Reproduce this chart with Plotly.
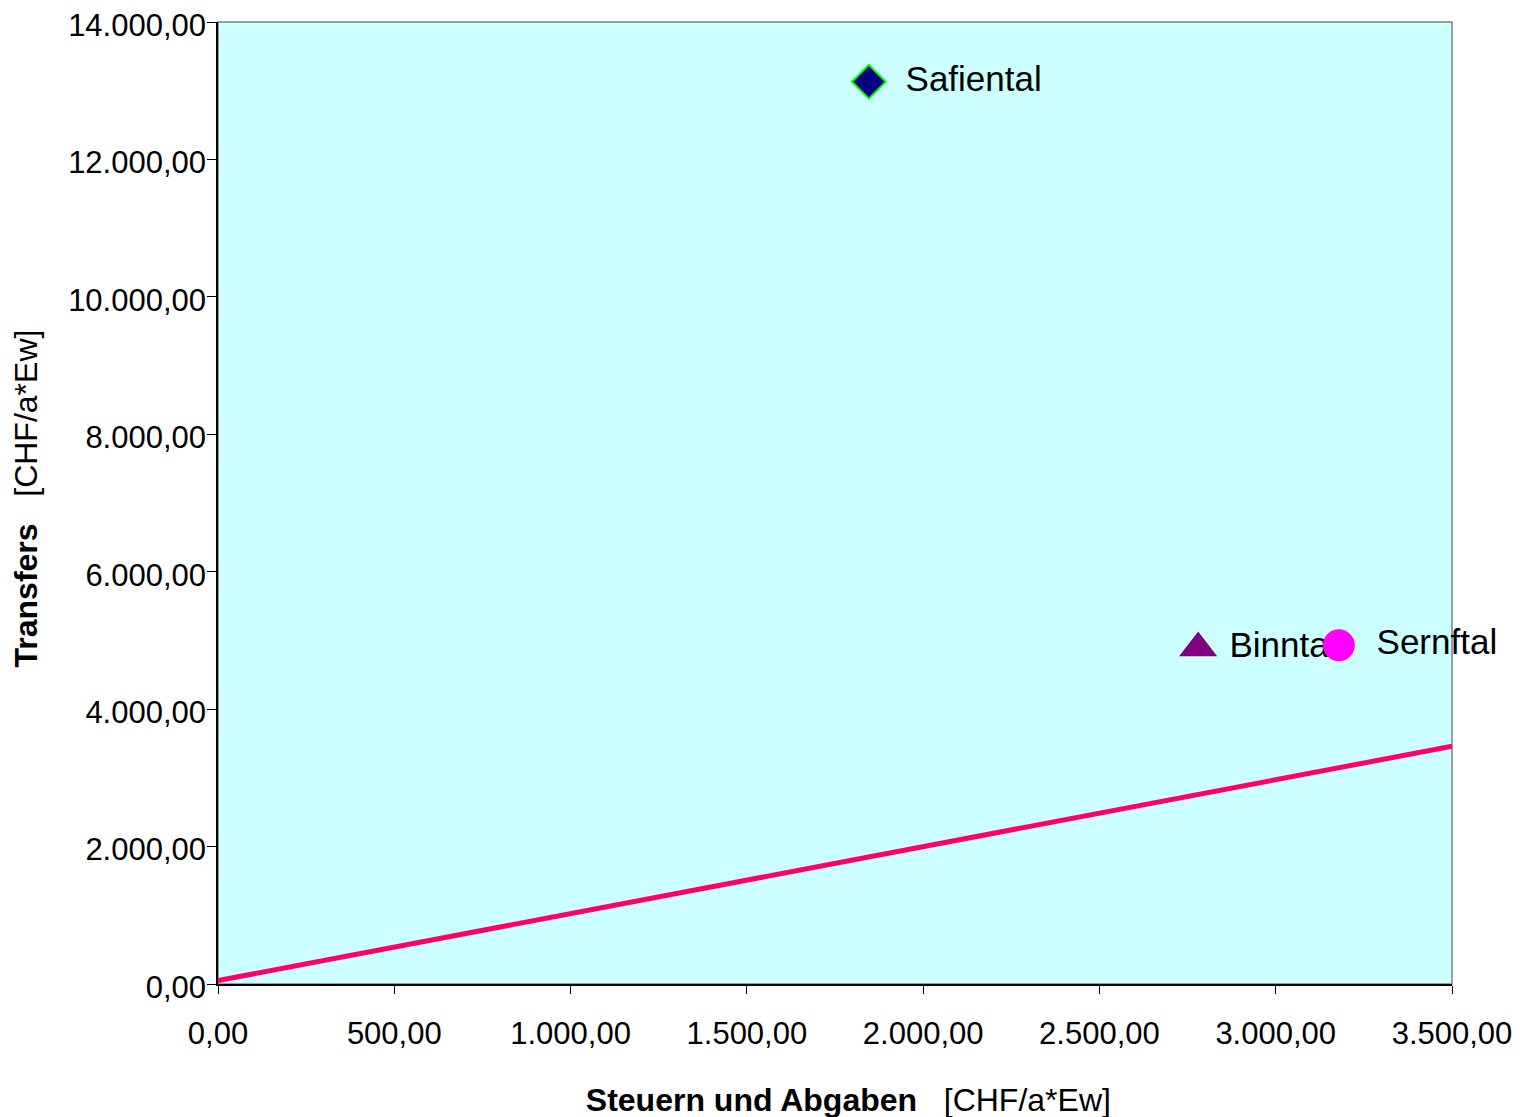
import plotly.graph_objects as go

# Data
names = ["Safiental", "Binntal", "Sernftal"]
steuern = [1846, 2780, 3179]
transfers = [13130, 4890, 4930]
line_x = [0, 3500]
line_y = [50, 3460]
x_ticks = [0, 500, 1000, 1500, 2000, 2500, 3000, 3500]
y_ticks = [0, 2000, 4000, 6000, 8000, 10000, 12000, 14000]

FONT = "Liberation Sans, Arial, sans-serif"
NB = "\u00a0"
TH = "\u2009"
INV = "<span style='color:rgba(0,0,0,0)'>{}</span>"

fig = go.Figure()

fig.add_trace(go.Scatter(
    x=line_x, y=line_y, mode="lines",
    line=dict(color="#FF0066", width=5), showlegend=False, hoverinfo="skip"))

styles = [
    dict(symbol="diamond", color="#000080", line=dict(color="#00FF00", width=2), size=26),
    dict(symbol="triangle-up", color="#800080", line=dict(width=0), size=33),
    dict(symbol="circle", color="#FF00FF", line=dict(width=0), size=32),
]
pads = [NB + NB, NB, NB + TH]

for i, n in enumerate(names):
    fig.add_trace(go.Scatter(
        x=[steuern[i]], y=[transfers[i]], mode="markers+text",
        marker=styles[i],
        text=[pads[i] + n], textposition="middle right",
        textfont=dict(family=FONT, size=35, color="black"),
        showlegend=False, cliponaxis=False))

fig.update_layout(
    width=1530, height=1117,
    margin=dict(l=210, r=86, t=14, b=141),
    paper_bgcolor="white", plot_bgcolor="#CCFFFF",
    separators=",.",
    font=dict(family=FONT, size=31, color="black"),
    shapes=[dict(type="rect", xref="paper", yref="paper", x0=0, y0=0, x1=1, y1=1,
                 line=dict(color="#808080", width=1.5), layer="below")],
)

fig.update_xaxes(
    range=[0, 3500], tickvals=x_ticks, tickformat=",.2f", automargin=False,
    showgrid=False, zeroline=False, showline=True, linecolor="black", linewidth=1.5,
    ticks="outside", ticklen=8, tickcolor="black", tickwidth=1,
    tickfont=dict(family=FONT, size=31), ticklabelstandoff=13, ticklabeloverflow="allow",
    title=dict(text=INV.format("...") + "<b>Steuern und Abgaben</b>" + NB * 3 + "[CHF/a*Ew]",
               font=dict(family=FONT, size=32), standoff=39),
)
fig.update_yaxes(
    range=[0, 14000], tickvals=y_ticks, tickformat=",.2f", automargin=False,
    showgrid=False, zeroline=False, showline=True, linecolor="black", linewidth=1.5,
    ticks="outside", ticklen=9, tickcolor="black", tickwidth=1,
    tickfont=dict(family=FONT, size=31), ticklabelstandoff=-5, ticklabelshift=3,
    ticklabeloverflow="allow",
    title=dict(text=INV.format(".") + "<b>Transfers</b>" + NB * 3 + "[CHF/a*Ew]",
               font=dict(family=FONT, size=32), standoff=22),
)

fig.write_html("out.html")
